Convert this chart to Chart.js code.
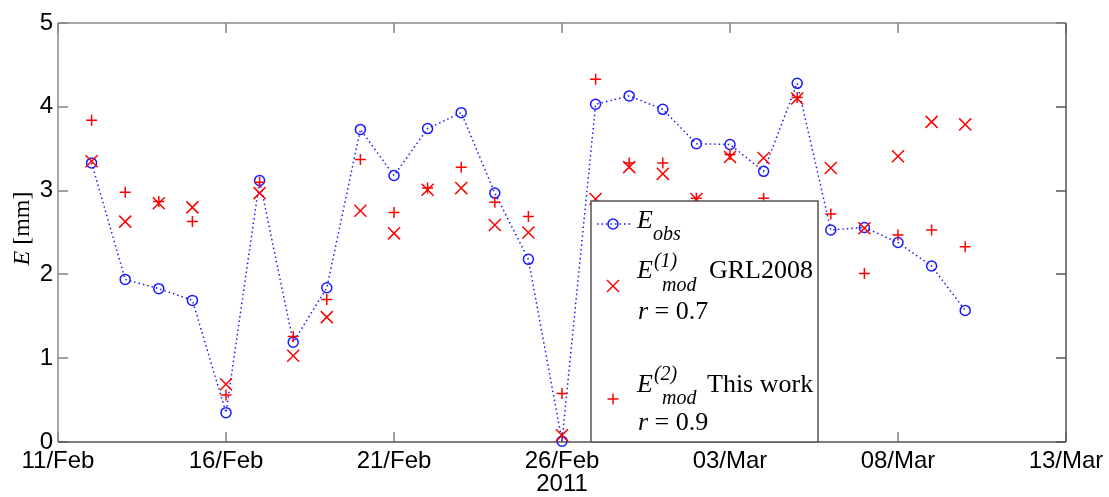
<!DOCTYPE html>
<html><head><meta charset="utf-8">
<script src="https://cdn.jsdelivr.net/npm/chart.js@4/dist/chart.umd.min.js"></script>
<style>html,body{margin:0;padding:0;background:#fff;} #wrap{width:1109px;height:497px;position:relative;}</style>
</head><body><div id="wrap"><canvas id="c"></canvas></div>
<script>
const startDate = '2011-02-11';
const dates = ['2011-02-12','2011-02-13','2011-02-14','2011-02-15','2011-02-16','2011-02-17','2011-02-18','2011-02-19','2011-02-20','2011-02-21','2011-02-22','2011-02-23','2011-02-24','2011-02-25','2011-02-26','2011-02-27','2011-02-28','2011-03-01','2011-03-02','2011-03-03','2011-03-04','2011-03-05','2011-03-06','2011-03-07','2011-03-08','2011-03-09','2011-03-10'];
const Eobs  = [3.33,1.94,1.83,1.69,0.35,3.12,1.19,1.84,3.73,3.18,3.74,3.93,2.97,2.18,0.01,4.03,4.13,3.97,3.56,3.55,3.23,4.28,2.53,2.56,2.38,2.10,1.57];
const Emod1 = [3.35,2.63,2.85,2.80,0.69,2.97,1.03,1.49,2.76,2.49,3.01,3.03,2.59,2.50,0.08,2.90,3.28,3.20,2.90,3.40,3.39,4.10,3.27,2.55,3.41,3.82,3.79];
const Emod2 = [3.84,2.98,2.87,2.63,0.56,3.10,1.26,1.70,3.37,2.74,3.03,3.28,2.86,2.69,0.58,4.33,3.33,3.33,2.91,3.43,2.91,4.11,2.72,2.01,2.47,2.53,2.33];
const xTickLabels = ['11/Feb','16/Feb','21/Feb','26/Feb','03/Mar','08/Mar','13/Mar'];
const xTitle = '2011';
const r1 = 'r = 0.7', r2 = 'r = 0.9';

const DAY = 86400000;
const t0 = Date.parse(startDate + 'T00:00:00Z');
const dayOf = d => (Date.parse(d + 'T00:00:00Z') - t0) / DAY;
const pts = arr => arr.map((v,i) => ({x: dayOf(dates[i]), y: v}));
const xMax = 5 * (xTickLabels.length - 1);

const SANS = '"Liberation Sans", Arial, sans-serif';
const SERIF = '"Liberation Serif", "Times New Roman", serif';
const RED = '#ff0000', BLUE = '#1a1aff';

function seg(ctx,x1,y1,x2,y2){ctx.beginPath();ctx.moveTo(x1,y1);ctx.lineTo(x2,y2);ctx.stroke();}

const framePlugin = {
  id:'frame',
  beforeDatasetsDraw(chart){
    const {ctx, chartArea:a, scales:{x,y}} = chart;
    ctx.save();
    ctx.lineWidth = 1.5;
    ctx.strokeStyle = '#808080';
    x.ticks.forEach(t => {
      const px = Math.round(x.getPixelForValue(t.value));
      seg(ctx,px,a.bottom,px,a.bottom-10);
      seg(ctx,px,a.top,px,a.top+10);
    });
    y.ticks.forEach(t => {
      const py = Math.round(y.getPixelForValue(t.value));
      seg(ctx,a.left,py,a.left+10,py);
      ctx.strokeStyle = '#555';
      seg(ctx,a.right,py,a.right-10,py);
      ctx.strokeStyle = '#808080';
    });
    ctx.strokeStyle = '#8a8a8a';
    seg(ctx,a.left,a.bottom,a.left,a.top);
    seg(ctx,a.left,a.top,a.right,a.top);
    ctx.strokeStyle = '#555';
    seg(ctx,a.right,a.top,a.right,a.bottom);
    seg(ctx,a.left,a.bottom,a.right,a.bottom);
    ctx.restore();
  },
  afterDraw(chart){
    const {ctx, chartArea:a} = chart;
    ctx.save();
    ctx.fillStyle = '#000';
    ctx.textBaseline = 'alphabetic';
    const cy = (a.top + a.bottom)/2 - 4;
    ctx.translate(29, cy);
    ctx.rotate(-Math.PI/2);
    ctx.font = 'italic 24px ' + SERIF;
    const wE = ctx.measureText('E').width;
    ctx.font = '24px ' + SERIF;
    const wR = ctx.measureText(' [mm]').width;
    let sx = -(wE + wR)/2;
    ctx.font = 'italic 24px ' + SERIF;
    ctx.fillText('E', sx, 0);
    ctx.font = '24px ' + SERIF;
    ctx.fillText(' [mm]', sx + wE, 0);
    ctx.restore();
  }
};

function drawCircle(ctx,x,y){ctx.strokeStyle=BLUE;ctx.lineWidth=1.5;ctx.beginPath();ctx.arc(x,y,5,0,Math.PI*2);ctx.stroke();}
function drawX(ctx,x,y){ctx.strokeStyle=RED;ctx.lineWidth=1.5;const s=6;seg(ctx,x-s,y-s,x+s,y+s);seg(ctx,x-s,y+s,x+s,y-s);}
function drawPlus(ctx,x,y){ctx.strokeStyle=RED;ctx.lineWidth=1.5;const s=5.5;seg(ctx,x-s,y,x+s,y);seg(ctx,x,y-s,x,y+s);}

function txt(ctx,s,x,y,font){ctx.font=font;ctx.fillText(s,x,y);return ctx.measureText(s).width;}

const legendPlugin = {
  id:'mlegend',
  afterDatasetsDraw(chart){
    const {ctx, chartArea:a} = chart;
    const L = 591, T = 201, R = 818, B = a.bottom;
    ctx.save();
    ctx.fillStyle = '#fff';
    ctx.fillRect(L, T, R-L, B-T);
    ctx.strokeStyle = '#555';
    ctx.lineWidth = 1.5;
    ctx.strokeRect(L, T, R-L, B-T);
    ctx.strokeStyle = BLUE; ctx.lineWidth = 1.5; ctx.setLineDash([1.5,3]);
    seg(ctx, 597, 224, 631, 224);
    ctx.setLineDash([]);
    drawCircle(ctx, 613, 224);
    ctx.fillStyle = '#000';
    ctx.textBaseline = 'alphabetic';
    const big = 'italic 26px ' + SERIF, small = 'italic 20px ' + SERIF, reg = '26px ' + SERIF;
    let w = txt(ctx,'E',637,228,big);
    txt(ctx,'obs',637+w,240,small);
    drawX(ctx, 613, 286);
    w = txt(ctx,'E',637,278,big);
    txt(ctx,'(1)',637+w+1,267,small);
    txt(ctx,'mod',662,291,small);
    txt(ctx,'GRL2008',709,278,reg);
    let wr = txt(ctx,'r',638,319,big);
    txt(ctx,r1.slice(1),638+wr,319,reg);
    drawPlus(ctx, 613, 399);
    w = txt(ctx,'E',637,392,big);
    txt(ctx,'(2)',637+w+1,380,small);
    txt(ctx,'mod',662,404,small);
    txt(ctx,'This work',707,392,reg);
    wr = txt(ctx,'r',638,430,big);
    txt(ctx,r2.slice(1),638+wr,430,reg);
    ctx.restore();
  }
};

new Chart(document.getElementById('c'), {
  type: 'scatter',
  data: {
    datasets: [
      {label:'E_obs', data: pts(Eobs), showLine:true, order:3, borderColor: BLUE, borderWidth:1.5, borderDash:[1.5,3],
       pointStyle:'circle', pointRadius:5, pointBorderColor: BLUE, pointBackgroundColor:'rgba(0,0,0,0)', pointBorderWidth:1.5, clip:false},
      {label:'E_mod1', data: pts(Emod1), showLine:false, order:2, pointStyle:'crossRot', pointRadius:8.5, pointBorderColor: RED, pointBorderWidth:1.5, clip:false},
      {label:'E_mod2', data: pts(Emod2), showLine:false, order:1, pointStyle:'cross', pointRadius:5.5, pointBorderColor: RED, pointBorderWidth:1.5, clip:false}
    ]
  },
  options: {
    responsive:true, maintainAspectRatio:false, animation:false,
    layout:{padding:{left:0, right:43, top:23, bottom:0}},
    plugins:{legend:{display:false}, tooltip:{enabled:false}},
    elements:{point:{hoverRadius:0}},
    scales:{
      x:{type:'linear', min:0, max:xMax,
         grid:{display:false, drawTicks:false}, border:{display:false},
         ticks:{stepSize:5, padding:5, color:'#000', font:{family:SANS, size:24}, maxRotation:0,
                callback:(v)=> xTickLabels[v/5] ?? ''},
         title:{display:true, text:xTitle, color:'#000', font:{family:SANS, size:24}, padding:{top:0,bottom:-2}},
         afterFit:(s)=>{s.height = 55;}},
      y:{min:0, max:5,
         grid:{display:false, drawTicks:false}, border:{display:false},
         ticks:{stepSize:1, padding:5, color:'#000', font:{family:SANS, size:24}},
         afterFit:(s)=>{s.width = 58;}}
    }
  },
  plugins:[framePlugin, legendPlugin]
});
</script>
</body></html>
